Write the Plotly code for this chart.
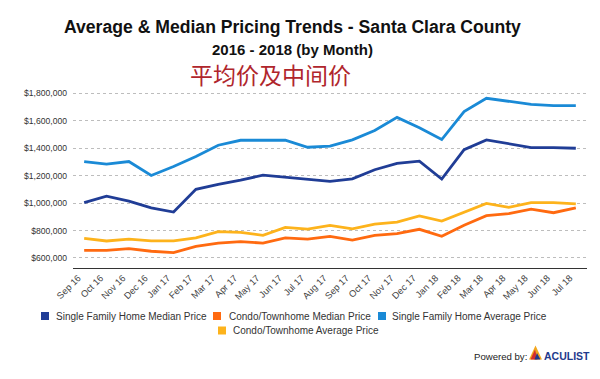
import plotly.graph_objects as go

months = ["Sep 16", "Oct 16", "Nov 16", "Dec 16", "Jan 17", "Feb 17", "Mar 17", "Apr 17",
          "May 17", "Jun 17", "Jul 17", "Aug 17", "Sep 17", "Oct 17", "Nov 17", "Dec 17",
          "Jan 18", "Feb 18", "Mar 18", "Apr 18", "May 18", "Jun 18", "Jul 18"]

sf_median = [1003000, 1051000, 1015000, 966000, 935000, 1100000, 1136000, 1167000,
             1204000, 1189000, 1172000, 1158000, 1177000, 1243000, 1289000, 1306000,
             1175000, 1390000, 1461000, 1432000, 1405000, 1405000, 1400000]
condo_median = [656000, 656000, 668000, 649000, 639000, 685000, 709000, 719000,
                709000, 746000, 738000, 758000, 731000, 765000, 777000, 809000,
                758000, 838000, 908000, 923000, 956000, 930000, 966000]
sf_average = [1303000, 1284000, 1303000, 1201000, 1267000, 1339000, 1422000, 1458000,
              1458000, 1458000, 1407000, 1415000, 1461000, 1529000, 1625000, 1550000,
              1463000, 1667000, 1764000, 1744000, 1720000, 1710000, 1710000]
condo_average = [743000, 724000, 738000, 724000, 724000, 746000, 792000, 787000,
                 765000, 823000, 811000, 838000, 813000, 847000, 862000, 906000,
                 869000, 935000, 998000, 969000, 1003000, 1003000, 995000]

series_names = ["Single Family Home Median Price", "Condo/Townhome Median Price",
                "Single Family Home Average Price", "Condo/Townhome Average Price"]
series_values = [sf_median, condo_median, sf_average, condo_average]
series_colors = ["#203d96", "#ff6a10", "#1a8ad6", "#fdb31c"]

FONT = "Liberation Sans, Arial, sans-serif"

fig = go.Figure()
for name, vals, col in zip(series_names, series_values, series_colors):
    fig.add_trace(go.Scatter(x=months, y=vals, mode="lines", name=name,
                             line=dict(color=col, width=2.8), showlegend=False,
                             hoverinfo="x+y"))

L, R, T, B = 73, 13, 88, 111
PW, PH = 600 - L - R, 379 - T - B


def px(x):
    return (x - L) / PW


def py(y):
    return (379 - B - y) / PH


annotations = [
    dict(text="<b>Average & Median Pricing Trends - Santa Clara County</b>",
         x=px(292), y=py(27), font=dict(size=17.6, color="#111", family=FONT)),
    dict(text="<b>2016 - 2018 (by Month)</b>",
         x=px(292.5), y=py(49), font=dict(size=15, color="#111", family=FONT)),
    dict(text="平均价及中间价",
         x=px(270), y=py(73.5), font=dict(size=23, color="#b0262c", family="Noto Sans CJK SC")),
    dict(text="Powered by:", x=px(528.5), y=py(356), xanchor="right",
         font=dict(size=9.6, color="#222", family=FONT)),
    dict(text="<b>ACULIST</b>", x=px(541.5), y=py(356), xanchor="left",
         font=dict(size=10.5, color="#1f3a8c", family=FONT)),
]

shapes = []
# legend (swatch left x, row centre y, text left x)
legend_pos = [(41, 316, 54), (213, 316, 227), (378, 316, 390), (218, 330.5, 231)]
for name, col, (sx, sy, tx) in zip(series_names, series_colors, legend_pos):
    shapes.append(dict(type="rect", x0=px(sx), x1=px(sx + 8), y0=py(sy - 4), y1=py(sy + 4),
                       fillcolor=col, line=dict(width=0)))
    annotations.append(dict(text=name, x=px(tx), y=py(sy), xanchor="left",
                            font=dict(size=10, color="#333", family=FONT)))

for a in annotations:
    a.update(xref="paper", yref="paper", showarrow=False)
    a.setdefault("xanchor", "center")
    a.setdefault("yanchor", "middle")


def tri(pts):
    return "M " + " L ".join(f"{px(x):.4f},{py(y):.4f}" for x, y in pts) + " Z"


shapes += [
    dict(type="path", path=tri([(535.5, 345.5), (529, 359.5), (542, 359.5)]),
         fillcolor="#f3a81f", line=dict(width=0)),
    dict(type="path", path=tri([(535, 349.5), (530.5, 359.5), (537.5, 359.5)]),
         fillcolor="#d32f2f", line=dict(width=0)),
    dict(type="path", path=tri([(537, 353), (534.5, 359.5), (540.5, 359.5)]),
         fillcolor="#1f3a8c", line=dict(width=0)),
]
for s in shapes:
    s.update(xref="paper", yref="paper")

fig.update_layout(
    width=600, height=379,
    margin=dict(l=L, r=R, t=T, b=B, pad=0, autoexpand=False),
    paper_bgcolor="white", plot_bgcolor="white",
    font=dict(family=FONT, color="#333"),
    annotations=annotations,
    shapes=shapes,
    showlegend=False,
    xaxis=dict(type="category", range=[-0.5, len(months) - 0.5], showgrid=False,
               showline=True, linecolor="#333", linewidth=1, ticks="",
               tickangle=-45, tickfont=dict(size=9.3, color="#444", family=FONT),
               ticklabelshift=-6, fixedrange=True, automargin=False),
    yaxis=dict(range=[527000, 1839000], tick0=0, dtick=200000,
               tickprefix="$", tickformat=",", showgrid=True,
               gridcolor="#bdbdbd", griddash="dot", gridwidth=1,
               zeroline=False, showline=False, ticks="",
               tickfont=dict(size=8.6, color="#333", family=FONT),
               ticklabelstandoff=5, fixedrange=True, automargin=False),
)

fig.write_html("out.html", config={"displayModeBar": False},
               post_script="document.body.style.margin='0';document.body.style.padding='0';")
